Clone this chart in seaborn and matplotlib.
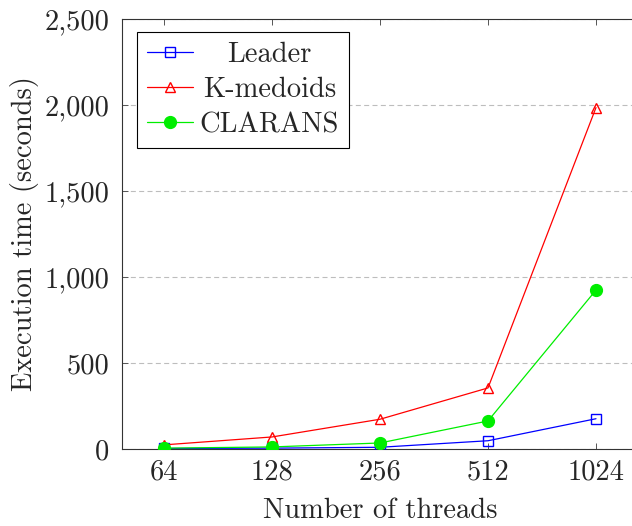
import matplotlib
matplotlib.use("Agg")
import matplotlib.pyplot as plt
import seaborn as sns
import pandas as pd
from matplotlib.ticker import FuncFormatter

threads = ["64", "128", "256", "512", "1024"]
leader = [3, 5, 10, 48, 176]
kmedoids = [24, 70, 173, 355, 1985]
clarans = [5, 12, 35, 163, 924]
y_ticks = [0, 500, 1000, 1500, 2000, 2500]

sns.set_style("white")
plt.rcParams["font.family"] = ["cmr10", "DejaVu Serif"]
plt.rcParams["mathtext.fontset"] = "cm"
plt.rcParams["axes.formatter.use_mathtext"] = True
plt.rcParams["axes.unicode_minus"] = False

FS = 20.5
fig = plt.figure(figsize=(6.32, 5.26), dpi=100)
ax = fig.add_axes([122 / 632, 1 - 449 / 526, 516 / 632, 430 / 526])

series = [
    ("Leader", leader, "#0000ff", "s", dict(markerfacecolor="none", markersize=7.5)),
    ("K-medoids", kmedoids, "#ff0000", "^", dict(markerfacecolor="none", markersize=7)),
    ("CLARANS", clarans, "#00ee00", "o", dict(markerfacecolor="#00ee00", markersize=8.5)),
]
for name, vals, col, mk, extra in series:
    df = pd.DataFrame({"threads": threads, "time": vals})
    sns.lineplot(data=df, x="threads", y="time", sort=False, ax=ax, color=col,
                 marker=mk, markeredgecolor=col, markeredgewidth=1.0,
                 linewidth=0.9, label=name, zorder=3, **extra)

ax.set_xlim(-0.389, 4.389)
ax.set_ylim(0, 2500)
ax.set_yticks(y_ticks)
ax.yaxis.set_major_formatter(FuncFormatter(lambda v, p: f"{int(v):,}"))
ax.yaxis.grid(True, color="#bdbdbd", linestyle=(0, (4.5, 3)), linewidth=0.8)
ax.xaxis.grid(False)
ax.set_axisbelow(True)

for s in ax.spines.values():
    s.set_color("#333333")
    s.set_linewidth(0.8)

ax.tick_params(axis="both", direction="in", length=4, width=0.7, color="#555555",
               labelsize=FS, top=True, right=True, bottom=True, left=True)
ax.tick_params(axis="x", pad=7)
ax.tick_params(axis="y", pad=9)

ax.set_xlabel("Number of threads", fontsize=FS, labelpad=9)
ax.set_ylabel("Execution time (seconds)", fontsize=FS, labelpad=4)

leg = ax.legend(loc="upper left", bbox_to_anchor=(15 / 516, 1 - 13 / 430),
                fontsize=FS, frameon=True, fancybox=False, edgecolor="black",
                framealpha=1, borderaxespad=0, handlelength=1.6, handletextpad=0.25,
                labelspacing=0.3, borderpad=0.35)
leg.get_frame().set_linewidth(0.8)

# center legend texts like pgfplots
fig.canvas.draw()
r = fig.canvas.get_renderer()
texts = leg.get_texts()
widths = [t.get_window_extent(r).width for t in texts]
mw = max(widths)
for t, w in zip(texts, widths):
    x0, y0 = t.get_position()
    t.set_position((x0 + (mw - w) / 2, y0))

fig.savefig("out.png", dpi=100)
